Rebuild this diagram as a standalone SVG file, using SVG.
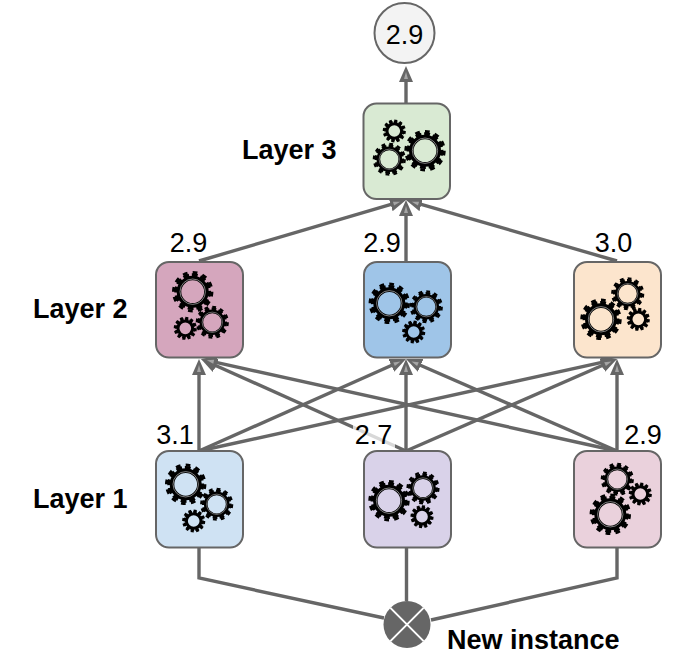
<svg xmlns="http://www.w3.org/2000/svg" width="693" height="661" viewBox="0 0 693 661">
<style>
.node{stroke:#666;stroke-width:2}
.edge{fill:none;stroke:#666;stroke-width:3.4}
.val{font-family:"Liberation Sans",Arial,sans-serif;font-size:27px;fill:#000}
.lbl{font-family:"Liberation Sans",Arial,sans-serif;font-size:27px;font-weight:bold;fill:#000}
</style>
<defs>
<marker id="arrow" markerUnits="userSpaceOnUse" markerWidth="16" markerHeight="15" refX="11" refY="7.5" orient="auto" viewBox="0 0 16 15">
<path d="M0,.5 L16,7.5 L0,14.5 Z" fill="#666"/>
<path d="M3,5.500 L10,7.500 L3,9.500 Z" fill="#a5a5a5"/>
</marker>
<g id="gear">
<circle r="19.200" fill="none" stroke="#000" stroke-width="3" pathLength="24" stroke-dasharray=".95 1.050"/>
<circle r="16.700" fill="none" stroke="#000" stroke-width="3.400" pathLength="24" stroke-dasharray="1.350 .65" stroke-dashoffset=".2"/>
<circle r="13.700" fill="none" stroke="#000" stroke-width="4.600"/>
<circle r="12.700" fill="none" stroke="#fff" stroke-opacity=".7" stroke-width=".7"/>
</g>
<g id="gear-small">
<circle r="19" fill="none" stroke="#000" stroke-width="4" pathLength="24" stroke-dasharray="1.100 .9"/>
<circle r="16.500" fill="none" stroke="#000" stroke-width="4" pathLength="24" stroke-dasharray="1.500 .5" stroke-dashoffset=".2"/>
<circle r="13.300" fill="none" stroke="#000" stroke-width="5.400"/>
</g>
</defs>
<g id="connectors">
<path class="edge" d="M406,103V71" marker-end="url(#arrow)"/>
<path class="edge" d="M199,261L401.2,201.4" marker-end="url(#arrow)"/>
<path class="edge" d="M406,261V205" marker-end="url(#arrow)"/>
<path class="edge" d="M617,261L410.8,201.4" marker-end="url(#arrow)"/>
<path class="edge" d="M199,451V364" marker-end="url(#arrow)"/>
<path class="edge" d="M406,451L205.6,361" marker-end="url(#arrow)"/>
<path class="edge" d="M617,451L205.9,360.1" marker-end="url(#arrow)"/>
<path class="edge" d="M199,451L401.4,361" marker-end="url(#arrow)"/>
<path class="edge" d="M406,451V364" marker-end="url(#arrow)"/>
<path class="edge" d="M617,451L410.6,361" marker-end="url(#arrow)"/>
<path class="edge" d="M199,451L612.1,360.1" marker-end="url(#arrow)"/>
<path class="edge" d="M406,451L612.4,361" marker-end="url(#arrow)"/>
<path class="edge" d="M617,451V364" marker-end="url(#arrow)"/>
<path class="edge" d="M199,547V578L384,618"/>
<path class="edge" d="M406.500,547V601"/>
<path class="edge" d="M617,547V578L431,620"/>
</g>
<g id="output">
<circle cx="404.500" cy="33" r="30" fill="#f3f3f3" stroke="#666" stroke-width="2"/>
<text class="val" x="404.500" y="43.500" text-anchor="middle">2.9</text>
</g>
<g id="layer3-node">
<rect class="node" x="363.500" y="103.500" width="86.500" height="95.500" rx="13" fill="#d9ead3"/>
<use href="#gear" transform="translate(425,150.700)"/>
<use href="#gear" transform="translate(389.300,159.300) scale(.8)"/>
<use href="#gear-small" transform="translate(394.300,131) scale(.55)"/>
</g>
<g id="layer2-left">
<rect class="node" x="156" y="262" width="87" height="95.500" rx="13" fill="#d5a6bd"/>
<use href="#gear" transform="translate(192.700,291.700)"/>
<use href="#gear" transform="translate(212.300,322.300) scale(.8)"/>
<use href="#gear-small" transform="translate(185.300,328.300) scale(.55)"/>
</g>
<g id="layer2-middle">
<rect class="node" x="364" y="262" width="87" height="95.500" rx="13" fill="#9fc5e8"/>
<use href="#gear" transform="translate(389.300,303.300)"/>
<use href="#gear" transform="translate(426.300,306.700) scale(.8)"/>
<use href="#gear-small" transform="translate(413.700,332) scale(.55)"/>
</g>
<g id="layer2-right">
<rect class="node" x="574" y="262" width="87" height="95.500" rx="13" fill="#fce5cd"/>
<use href="#gear" transform="translate(601,319.300)"/>
<use href="#gear" transform="translate(627.700,293.700) scale(.8)"/>
<use href="#gear-small" transform="translate(638.300,319.300) scale(.55)"/>
</g>
<g id="layer1-left">
<rect class="node" x="156" y="451" width="87" height="96.500" rx="13" fill="#cfe2f3"/>
<use href="#gear" transform="translate(185.700,484.300)"/>
<use href="#gear" transform="translate(216.700,504.300) scale(.8)"/>
<use href="#gear-small" transform="translate(193.700,521) scale(.55)"/>
</g>
<g id="layer1-middle">
<rect class="node" x="364" y="451" width="87" height="96.500" rx="13" fill="#d9d2e9"/>
<use href="#gear" transform="translate(389,500.700)"/>
<use href="#gear" transform="translate(423,488) scale(.8)"/>
<use href="#gear-small" transform="translate(422,516.700) scale(.55)"/>
</g>
<g id="layer1-right">
<rect class="node" x="574" y="451" width="87" height="96.500" rx="13" fill="#ead1dc"/>
<use href="#gear" transform="translate(610.300,514.300)"/>
<use href="#gear" transform="translate(617.300,479.300) scale(.8)"/>
<use href="#gear-small" transform="translate(640.300,494) scale(.55)"/>
</g>
<g id="new-instance">
<circle cx="407" cy="624.500" r="23.500" fill="#666"/>
<path d="M390.400,607.900L423.600,641.100M423.600,607.900L390.400,641.100" stroke="#fff" stroke-width="2" fill="none"/>
<text class="lbl" x="447" y="649">New instance</text>
</g>
<g id="labels">
<rect x="353" y="421" width="42" height="27" fill="#fff" fill-opacity=".75"/>
<text class="val" x="188.500" y="251.500" text-anchor="middle">2.9</text>
<text class="val" x="382" y="251.500" text-anchor="middle">2.9</text>
<text class="val" x="613.500" y="251.500" text-anchor="middle">3.0</text>
<text class="val" x="175" y="443.500" text-anchor="middle">3.1</text>
<text class="val" x="373.500" y="443.500" text-anchor="middle">2.7</text>
<text class="val" x="643" y="443.500" text-anchor="middle">2.9</text>
<text class="lbl" x="242" y="158.500">Layer 3</text>
<text class="lbl" x="33" y="317.500">Layer 2</text>
<text class="lbl" x="33" y="507.500">Layer 1</text>
</g>
</svg>
